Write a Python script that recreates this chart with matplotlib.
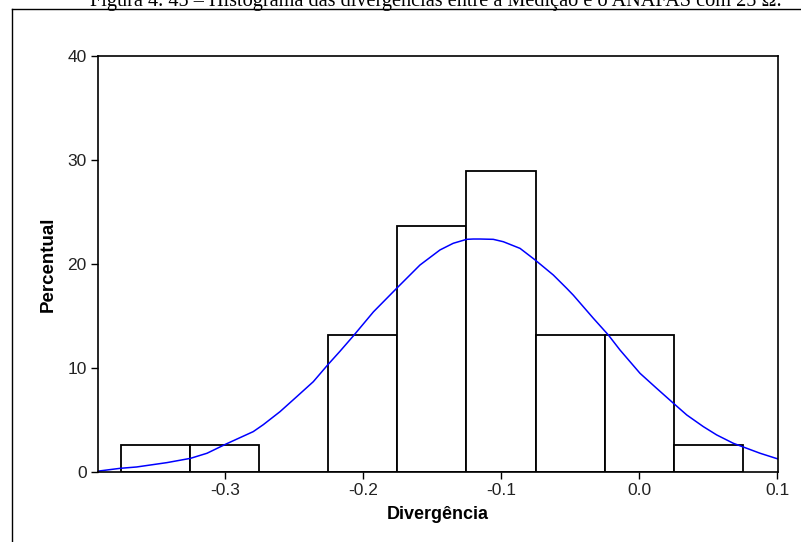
import matplotlib
matplotlib.use("Agg")
import matplotlib.pyplot as plt
from matplotlib.lines import Line2D

# histogram bins (width 0.05) and percentages
bin_left = [-0.375, -0.325, -0.275, -0.225, -0.175, -0.125, -0.075, -0.025, 0.025]
percent = [2.63, 2.63, 0.0, 13.16, 23.68, 28.95, 13.16, 13.16, 2.63]
bin_width = 0.05

# fitted normal curve
curve_x = [-0.392, -0.376, -0.364, -0.342, -0.325, -0.313, -0.299, -0.2795, -0.2722,
           -0.2601, -0.248, -0.236, -0.2256, -0.2167, -0.207, -0.1924, -0.1756,
           -0.1587, -0.1442, -0.1346, -0.1249, -0.1201, -0.1152, -0.1056, -0.0983,
           -0.0862, -0.0754, -0.0621, -0.0524, -0.0476, -0.0331, -0.0222, -0.0138,
           0.0007, 0.0128, 0.0244, 0.0346, 0.0466, 0.0563, 0.0683, 0.0877, 0.1014]
curve_y = [0.08, 0.35, 0.48, 0.9, 1.31, 1.8, 2.7, 3.88, 4.55,
           5.8, 7.24, 8.68, 10.29, 11.6, 13.08, 15.4, 17.66,
           19.9, 21.35, 21.99, 22.37, 22.4, 22.4, 22.37, 22.14,
           21.5, 20.4, 18.94, 17.66, 17.0, 14.78, 13.17, 11.73,
           9.49, 8.04, 6.67, 5.48, 4.36, 3.56, 2.76, 1.8, 1.22]

xticks = [-0.3, -0.2, -0.1, 0.0, 0.1]
xtick_labels = ["-0.3", "-0.2", "-0.1", "0.0", "0.1"]
yticks = [0, 10, 20, 30, 40]

fig = plt.figure(figsize=(8.01, 5.42), dpi=100)
ax = fig.add_axes([0.1223, 0.1292, 0.849, 0.7675])

ax.bar(bin_left, percent, width=bin_width, align="edge",
       facecolor="white", edgecolor="black", linewidth=1.3)
ax.plot(curve_x, curve_y, color="#0000ff", linewidth=1.1)

ax.set_xlim(-0.392, 0.1007)
ax.set_ylim(0, 40)
ax.set_xticks(xticks)
ax.set_xticklabels(xtick_labels)
ax.set_yticks(yticks)
ax.tick_params(direction="out", length=5, width=1, labelsize=12.5, pad=3,
               labelcolor="#222222")
for t in ax.get_xticklabels() + ax.get_yticklabels():
    t.set_fontfamily("Liberation Sans")
for s in ax.spines.values():
    s.set_linewidth(1.2)

ax.set_xlabel("Divergência", fontsize=13, fontweight="bold",
              fontfamily="Liberation Sans", labelpad=6)
ax.set_ylabel("Percentual", fontsize=13.5, fontweight="bold",
              fontfamily="Liberation Sans", labelpad=8)

# page frame and cropped caption
fig.add_artist(Line2D([12 / 801, 12 / 801], [0, 1 - 9 / 542],
                      transform=fig.transFigure, color="black", linewidth=1))
fig.add_artist(Line2D([12 / 801, 1], [1 - 9 / 542, 1 - 9 / 542],
                      transform=fig.transFigure, color="black", linewidth=1))
fig.text(436 / 801, 1 - 6 / 542,
         "Figura 4. 45 – Histograma das divergências entre a Medição e o ANAFAS com 25 Ω.",
         ha="center", va="baseline", fontsize=14.6, fontfamily="Liberation Serif")

fig.savefig("out.png", dpi=100)
